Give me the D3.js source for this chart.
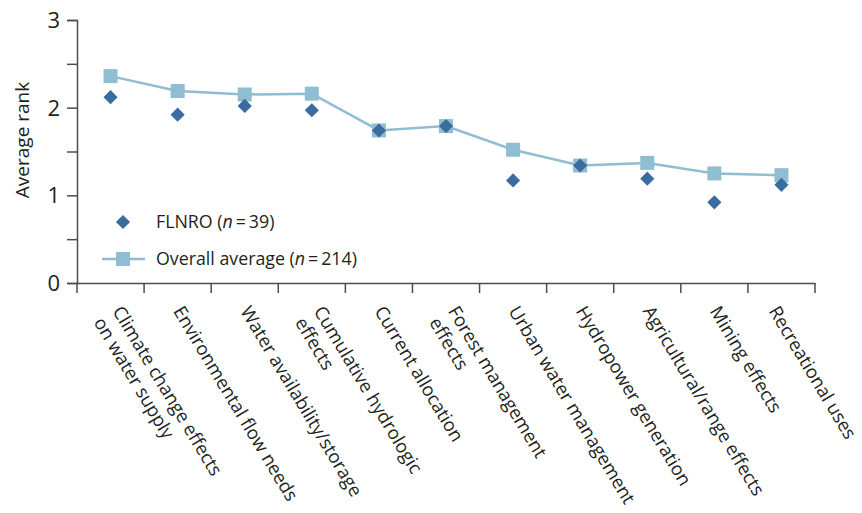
<!DOCTYPE html>
<html><head><meta charset="utf-8">
<script src="https://cdn.jsdelivr.net/npm/d3@7"></script>
<style>body{margin:0;background:#fff}svg{display:block}text{font-family:"Open Sans",sans-serif;fill:#231f20}</style>
</head><body>
<svg id="c" width="862" height="513"></svg>
<script>
const categories = [
  ["Climate change effects","on water supply"],
  ["Environmental flow needs"],
  ["Water availability/storage"],
  ["Cumulative hydrologic","effects"],
  ["Current allocation"],
  ["Forest management","effects"],
  ["Urban water management"],
  ["Hydropower generation"],
  ["Agricultural/range effects"],
  ["Mining effects"],
  ["Recreational uses"]
];
const flnro   = [2.12, 1.92, 2.02, 1.97, 1.74, 1.79, 1.17, 1.34, 1.19, 0.92, 1.12];
const overall = [2.36, 2.19, 2.15, 2.16, 1.74, 1.79, 1.52, 1.34, 1.37, 1.25, 1.23];
const yTicks = [0, 1, 2, 3];
const yMinorTicks = [0.5, 1.5, 2.5];

const svg = d3.select("#c");
const x0 = 77, x1 = 815, y0 = 283, y1 = 20;
const ids = categories.map((d,i)=>i);
const x = d3.scaleBand().domain(ids).range([x0, x1]).padding(0);
const y = d3.scaleLinear().domain([0, 3]).range([y0, y1]);
const axisColor = "#4d4d4f";

// y axis
const ya = svg.append("g").attr("transform", `translate(${x0},0)`)
  .call(d3.axisLeft(y).tickValues(yTicks.concat(yMinorTicks)).tickSize(10)
    .tickFormat(d => yTicks.includes(d) ? d3.format("d")(d) : ""));
ya.select(".domain").attr("stroke", axisColor).attr("stroke-width", 1.5);
ya.selectAll(".tick line").attr("stroke", axisColor).attr("stroke-width", 1.5);
ya.selectAll(".tick text").attr("font-size", 22).attr("x", -17).attr("dy", "0.34em").attr("fill", "#231f20")
  .style("font-family", '"Open Sans",sans-serif');

// x axis
const xa = svg.append("g").attr("transform", `translate(0,${y0})`)
  .call(d3.axisBottom(x).tickValues([]).tickSizeOuter(0));
xa.select(".domain").attr("stroke", axisColor).attr("stroke-width", 1.5);
const bounds = ids.map(i => x(i)).concat([x1]);
xa.selectAll("line.b").data(bounds).enter().append("line").attr("class","b")
  .attr("x1", d=>d).attr("x2", d=>d).attr("y1", 0).attr("y2", 10)
  .attr("stroke", axisColor).attr("stroke-width", 1.5);

// measure font size so label lengths match the reference layout
const probe = svg.append("text").attr("font-size", 20).text("Urban water management");
const pw = probe.node().getComputedTextLength();
probe.remove();
const labFs = Math.max(14, Math.min(20, 20 * 227 / (pw || 250)));
const ang = 59, rad = ang * Math.PI / 180;

// category labels
const lab = svg.append("g").selectAll("text").data(categories).enter().append("text")
  .attr("font-size", labFs);
lab.selectAll("tspan").data(d => d).enter().append("tspan")
  .attr("x", 0).attr("dy", (d,j) => j === 0 ? 0 : 22).text(d => d);
lab.each(function(d, i) {
  const el = d3.select(this);
  let tx = x(i) + x.bandwidth()/2 + (d.length > 1 ? 1.5 : -5);
  const w = this.getComputedTextLength ? d3.max(el.selectAll("tspan").nodes(), n => n.getComputedTextLength()) : 0;
  const right = tx + w * Math.cos(rad) + labFs * 0.75 * Math.sin(rad);
  if (right > 858) tx -= (right - 858);
  el.attr("transform", `translate(${tx},${y0 + 28}) rotate(${ang})`);
});

// y title
svg.append("text").attr("transform", "translate(29,140) rotate(-90)")
  .attr("text-anchor", "middle").attr("font-size", 19).text("Average rank");

const lightBlue = "#8fbdd1", darkBlue = "#3b6ca0";
const cx = i => x(i) + x.bandwidth()/2;

// line
svg.append("path").datum(overall)
  .attr("d", d3.line().x((d,i)=>cx(i)).y(d=>y(d)))
  .attr("fill", "none").attr("stroke", lightBlue).attr("stroke-width", 2.5);
const sq = 14;
svg.append("g").selectAll("rect").data(overall).enter().append("rect")
  .attr("x", (d,i)=>cx(i)-sq/2).attr("y", d=>y(d)-sq/2)
  .attr("width", sq).attr("height", sq).attr("fill", lightBlue);
const dsym = d3.symbol().type(d3.symbolSquare).size(100);
svg.append("g").selectAll("path").data(flnro).enter().append("path")
  .attr("d", dsym).attr("transform", (d,i)=>`translate(${cx(i)},${y(d)}) rotate(45)`)
  .attr("fill", darkBlue);

// legend
const lg = svg.append("g");
lg.append("path").attr("d", dsym).attr("transform", "translate(123,222) rotate(45)").attr("fill", darkBlue);
const t1 = lg.append("text").attr("x", 156).attr("y", 228).attr("font-size", 17.8);
t1.append("tspan").text("FLNRO (");
t1.append("tspan").attr("font-style", "italic").text("n");
t1.append("tspan").text("\u2009=\u200939)");
lg.append("line").attr("x1", 102).attr("x2", 145).attr("y1", 259).attr("y2", 259)
  .attr("stroke", lightBlue).attr("stroke-width", 2.5);
lg.append("rect").attr("x", 123-sq/2).attr("y", 259-sq/2).attr("width", sq).attr("height", sq).attr("fill", lightBlue);
const t2 = lg.append("text").attr("x", 156).attr("y", 265).attr("font-size", 17.8);
t2.append("tspan").text("Overall average (");
t2.append("tspan").attr("font-style", "italic").text("n");
t2.append("tspan").text("\u2009=\u2009214)");
</script>
</body></html>
